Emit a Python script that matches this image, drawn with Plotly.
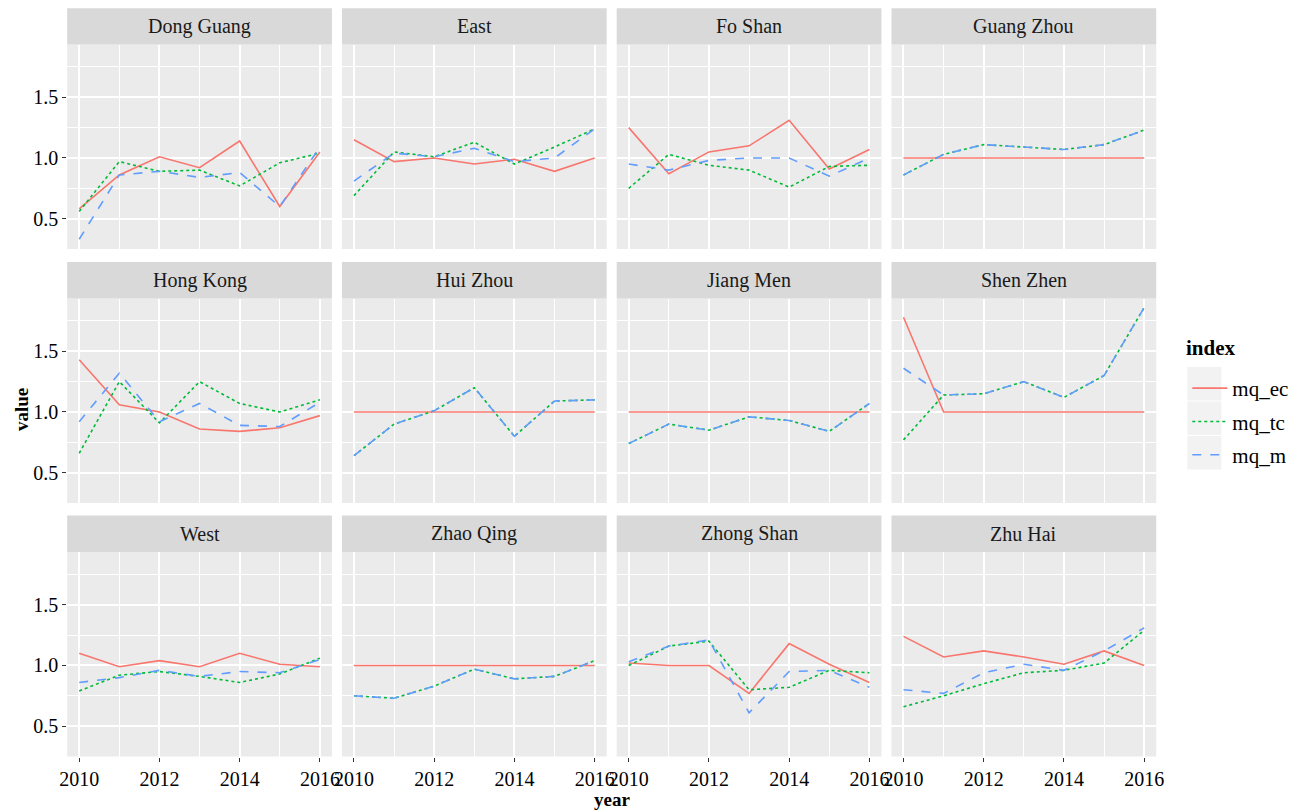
import plotly.graph_objects as go

years = [2010, 2011, 2012, 2013, 2014, 2015, 2016]
cities = ["Dong Guang", "East", "Fo Shan", "Guang Zhou",
          "Hong Kong", "Hui Zhou", "Jiang Men", "Shen Zhen",
          "West", "Zhao Qing", "Zhong Shan", "Zhu Hai"]
series_names = ["mq_ec", "mq_tc", "mq_m"]

mq_ec = {
    "Dong Guang": [0.58, 0.86, 1.01, 0.92, 1.14, 0.60, 1.05],
    "East":       [1.15, 0.97, 1.00, 0.95, 0.99, 0.89, 1.00],
    "Fo Shan":    [1.25, 0.87, 1.05, 1.10, 1.31, 0.91, 1.07],
    "Guang Zhou": [1.00, 1.00, 1.00, 1.00, 1.00, 1.00, 1.00],
    "Hong Kong":  [1.43, 1.06, 1.00, 0.86, 0.84, 0.87, 0.97],
    "Hui Zhou":   [1.00, 1.00, 1.00, 1.00, 1.00, 1.00, 1.00],
    "Jiang Men":  [1.00, 1.00, 1.00, 1.00, 1.00, 1.00, 1.00],
    "Shen Zhen":  [1.78, 1.00, 1.00, 1.00, 1.00, 1.00, 1.00],
    "West":       [1.10, 0.99, 1.04, 0.99, 1.10, 1.01, 0.99],
    "Zhao Qing":  [1.00, 1.00, 1.00, 1.00, 1.00, 1.00, 1.00],
    "Zhong Shan": [1.02, 1.00, 1.00, 0.77, 1.18, 1.01, 0.86],
    "Zhu Hai":    [1.24, 1.07, 1.12, 1.07, 1.01, 1.12, 1.00],
}
mq_tc = {
    "Dong Guang": [0.56, 0.97, 0.89, 0.90, 0.77, 0.96, 1.04],
    "East":       [0.69, 1.05, 1.01, 1.13, 0.95, 1.09, 1.24],
    "Fo Shan":    [0.75, 1.03, 0.94, 0.90, 0.76, 0.93, 0.94],
    "Guang Zhou": [0.86, 1.03, 1.11, 1.09, 1.07, 1.11, 1.23],
    "Hong Kong":  [0.66, 1.25, 0.91, 1.25, 1.07, 1.00, 1.10],
    "Hui Zhou":   [0.64, 0.90, 1.01, 1.20, 0.80, 1.09, 1.10],
    "Jiang Men":  [0.74, 0.90, 0.85, 0.96, 0.93, 0.84, 1.07],
    "Shen Zhen":  [0.77, 1.14, 1.15, 1.25, 1.12, 1.30, 1.86],
    "West":       [0.79, 0.92, 0.95, 0.91, 0.86, 0.93, 1.06],
    "Zhao Qing":  [0.75, 0.73, 0.83, 0.97, 0.89, 0.91, 1.04],
    "Zhong Shan": [1.00, 1.16, 1.20, 0.80, 0.82, 0.96, 0.94],
    "Zhu Hai":    [0.66, 0.75, 0.85, 0.94, 0.96, 1.02, 1.29],
}
mq_m = {
    "Dong Guang": [0.33, 0.86, 0.89, 0.84, 0.88, 0.60, 1.09],
    "East":       [0.81, 1.04, 1.01, 1.08, 0.97, 1.00, 1.24],
    "Fo Shan":    [0.95, 0.90, 0.98, 1.00, 1.00, 0.85, 1.00],
    "Guang Zhou": [0.86, 1.03, 1.11, 1.09, 1.07, 1.11, 1.23],
    "Hong Kong":  [0.92, 1.32, 0.92, 1.07, 0.89, 0.88, 1.08],
    "Hui Zhou":   [0.64, 0.90, 1.01, 1.20, 0.80, 1.09, 1.10],
    "Jiang Men":  [0.74, 0.90, 0.85, 0.96, 0.93, 0.84, 1.07],
    "Shen Zhen":  [1.36, 1.14, 1.15, 1.25, 1.12, 1.30, 1.86],
    "West":       [0.86, 0.90, 0.96, 0.91, 0.95, 0.94, 1.05],
    "Zhao Qing":  [0.75, 0.73, 0.83, 0.97, 0.89, 0.91, 1.04],
    "Zhong Shan": [1.03, 1.16, 1.21, 0.61, 0.95, 0.96, 0.82],
    "Zhu Hai":    [0.80, 0.77, 0.94, 1.01, 0.96, 1.12, 1.31],
}
x_tick_vals = [2010, 2012, 2014, 2016]
y_tick_vals = [0.5, 1.0, 1.5]
y_tick_text = ["0.5", "1.0", "1.5"]

data_by_series = [mq_ec, mq_tc, mq_m]
colors = ["#F8766D", "#00BA38", "#619CFF"]
dashes = ["solid", "dot", "dash"]

W, H = 1307, 811
FONT = "Liberation Serif"

# panel geometry in pixels (target positions)
col_x = [(68, 332), (342, 606), (616, 880), (890, 1154)]
row_y = [((8.3, 44.5), (44.5, 249)), ((262, 298.5), (298.5, 503)), ((515.5, 552), (552, 756.5))]

def px(x):
    # compensates a slight horizontal offset/compression seen in the rendered page
    return ((x - 9) / 0.985) / W

def py(y):
    return 1 - y / H

fig = go.Figure()
shapes = []
annotations = []
layout_axes = {}

for i, city in enumerate(cities):
    r, c = divmod(i, 4)
    n = i + 1
    xa = "x" if n == 1 else f"x{n}"
    ya = "y" if n == 1 else f"y{n}"
    for s, (name, d) in enumerate(zip(series_names, data_by_series)):
        fig.add_trace(go.Scatter(
            x=years, y=d[city], mode="lines", name=name,
            line=dict(color=colors[s], width=1.6, dash=dashes[s]),
            xaxis=xa, yaxis=ya, showlegend=(i == 0), legendgroup=name,
        ))
    (sx0, sx1) = col_x[c]
    (st, sb), (pt, pb) = row_y[r]
    xkey = "xaxis" if n == 1 else f"xaxis{n}"
    ykey = "yaxis" if n == 1 else f"yaxis{n}"
    layout_axes[xkey] = dict(
        domain=[px(sx0), px(sx1)], anchor=ya, range=[2009.7, 2016.3],
        tickvals=x_tick_vals, showticklabels=(r == 2),
        ticks="outside" if r == 2 else "", ticklen=4, tickwidth=1.2, tickcolor="#333333",
        gridcolor="white", gridwidth=1.6, showline=False, zeroline=False,
        minor=dict(tickvals=[2011, 2013, 2015], gridcolor="white", gridwidth=0.7, ticks=""),
        tickfont=dict(family=FONT, size=20, color="black"),
    )
    layout_axes[ykey] = dict(
        domain=[py(pb), py(pt)], anchor=xa, range=[0.25, 1.935],
        tickvals=y_tick_vals, ticktext=y_tick_text, showticklabels=(c == 0),
        ticks="outside" if c == 0 else "", ticklen=4, tickwidth=1.2, tickcolor="#333333",
        gridcolor="white", gridwidth=1.6, showline=False, zeroline=False,
        minor=dict(tickvals=[0.25, 0.75, 1.25, 1.75], gridcolor="white", gridwidth=0.7, ticks=""),
        tickfont=dict(family=FONT, size=20, color="black"),
    )
    shapes.append(dict(type="rect", xref="paper", yref="paper",
                       x0=px(sx0), x1=px(sx1), y0=py(sb), y1=py(st),
                       fillcolor="#D9D9D9", line=dict(width=0), layer="below"))
    annotations.append(dict(text=city, xref="paper", yref="paper",
                            x=px((sx0 + sx1) / 2), y=py((st + sb) / 2),
                            showarrow=False, xanchor="center", yanchor="middle",
                            font=dict(family=FONT, size=20, color="#1A1A1A")))

# legend key backgrounds
for k, (ky0, ky1) in enumerate([(367, 400.5), (401.5, 435), (436, 469.5)]):
    shapes.append(dict(type="rect", xref="paper", yref="paper",
                       x0=px(1185), x1=px(1219), y0=py(ky1), y1=py(ky0),
                       fillcolor="#F2F2F2", line=dict(width=0), layer="below"))

annotations.append(dict(text="<b>year</b>", xref="paper", yref="paper",
                        x=px(611), y=py(799), showarrow=False,
                        xanchor="center", yanchor="middle",
                        font=dict(family=FONT, size=19, color="black")))
annotations.append(dict(text="<b>value</b>", xref="paper", yref="paper",
                        x=px(22), y=py(410), showarrow=False, textangle=-90,
                        xanchor="center", yanchor="middle",
                        font=dict(family=FONT, size=19, color="black")))
annotations.append(dict(text="<b>index</b>", xref="paper", yref="paper",
                        x=px(1182), y=py(348), showarrow=False,
                        xanchor="left", yanchor="middle",
                        font=dict(family=FONT, size=21, color="black")))

fig.update_layout(
    width=W, height=H, autosize=False,
    margin=dict(l=0, r=0, t=0, b=0),
    paper_bgcolor="white", plot_bgcolor="#EBEBEB",
    shapes=shapes, annotations=annotations,
    showlegend=True,
    legend=dict(
        x=px(1185), y=py(368), xanchor="left", yanchor="top",
        font=dict(family=FONT, size=21, color="black"),
        bgcolor="rgba(0,0,0,0)", tracegroupgap=3, itemwidth=35,
    ),
    **layout_axes,
)

fig.write_html(
    "out.html",
    config={"displayModeBar": False},
    post_script=(
        "document.documentElement.style.margin='0';"
        "document.documentElement.style.overflow='hidden';"
        "document.body.style.margin='0';"
        "document.body.style.overflow='hidden';"
    ),
)
